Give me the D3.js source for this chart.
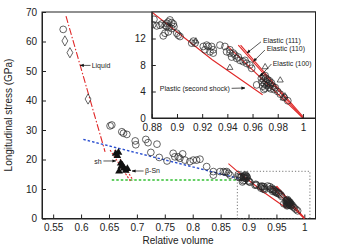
<!DOCTYPE html>
<html lang="en">
<head>
<meta charset="utf-8">
<title>Longitudinal stress vs relative volume</title>
<script src="https://d3js.org/d3.v7.min.js"></script>
<style>
    body { margin: 0; background: #fff; }
    svg { display: block; font-family: "Liberation Sans", Arial, sans-serif; }
    .axis path, .axis line { stroke: #222; }
    .axis text { font-size: 10px; fill: #222; }
    .note { font-size: 7px; fill: #222; }
</style>
</head>
<body>
<script>
// ---- data ----
var xTicksMain = [0.55, 0.6, 0.65, 0.7, 0.75, 0.8, 0.85, 0.9, 0.95, 1];
var yTicksMain = [0, 10, 20, 30, 40, 50, 60, 70];
var xTicksInset = [0.88, 0.9, 0.92, 0.94, 0.96, 0.98, 1];
var yTicksInset = [0, 4, 8, 12];

// liquid branch
var liquidDiamonds = [[0.571, 60.2], [0.580, 56.2], [0.6125, 40.5]];
var liquidCircles = [[0.568, 64.1]];
var liquidLine = [[0.573, 68.6], [0.643, 22.6]];
// beta-Sn / sh boundary (red dotted pair)
var snLineA = [[0.652, 23.2], [0.689, 12.5]];
var snLineB = [[0.660, 23.2], [0.693, 13.0]];
var blueLine = [[0.604, 26.8], [0.882, 13.6]];
var greenLine = [[0.655, 13.05], [0.879, 13.05]];

// filled triangles (beta-Sn)
var snTriangles = [[0.662, 22.0], [0.667, 22.4], [0.665, 21.3], [0.671, 18.7], [0.674, 18.1],
    [0.677, 17.0], [0.668, 16.0], [0.680, 16.3], [0.683, 16.9], [0.672, 17.6]];

// open circles of the main plot (0.64 - 0.88)
var midCircles = [[0.652, 31.4], [0.655, 31.7], [0.673, 29.4], [0.676, 28.9], [0.682, 28.5],
    [0.697, 26.3], [0.698, 25.0], [0.716, 26.8], [0.720, 25.7], [0.736, 25.2], [0.725, 22.4],
    [0.740, 20.7], [0.754, 19.5], [0.765, 22.1], [0.768, 20.9], [0.774, 20.9], [0.777, 20.4],
    [0.782, 21.9], [0.786, 19.8], [0.795, 19.3], [0.801, 19.8], [0.807, 19.8], [0.813, 20.1],
    [0.825, 17.6], [0.837, 15.9], [0.837, 14.7], [0.849, 15.9], [0.855, 15.9], [0.861, 15.9],
    [0.864, 15.3], [0.867, 14.7], [0.858, 15.7]];

// open circles shared by inset and main plot (0.88 - 1)
var hiCircles = [[0.8817, 14.9], [0.8807, 14.1], [0.8839, 13.9], [0.8865, 14.0], [0.8879, 14.2],
    [0.8905, 14.0], [0.8918, 14.3], [0.8931, 14.5], [0.8944, 14.8], [0.8958, 14.4], [0.8971, 14.2],
    [0.8976, 13.8], [0.8958, 13.5], [0.8931, 13.0], [0.8905, 12.8], [0.8891, 12.4], [0.8918, 13.8],
    [0.8939, 13.7], [0.8998, 12.8], [0.9010, 12.5], [0.9024, 12.3],
    [0.9117, 11.3], [0.9130, 11.6], [0.9143, 11.3], [0.9209, 10.8], [0.9236, 11.0], [0.9248, 10.8],
    [0.9275, 10.8], [0.9288, 10.3], [0.9222, 10.3], [0.9262, 10.0], [0.9288, 9.8],
    [0.9341, 11.0], [0.9381, 10.8], [0.9420, 10.3], [0.9447, 9.8], [0.9474, 9.0],
    [0.9394, 10.0], [0.9421, 9.8], [0.9434, 9.2], [0.9460, 9.5], [0.9487, 9.2], [0.9500, 8.7],
    [0.9526, 8.5], [0.9540, 8.7], [0.9553, 8.25], [0.9579, 8.0], [0.9593, 7.5], [0.9633, 5.0],
    [0.9670, 6.0], [0.9675, 5.4], [0.9680, 4.8], [0.9685, 6.2], [0.9690, 5.7], [0.9695, 5.1],
    [0.9700, 4.5], [0.9705, 6.0], [0.9710, 5.4], [0.9715, 4.9], [0.9720, 5.8], [0.9725, 5.2],
    [0.9730, 4.6], [0.9735, 5.6], [0.9740, 5.0], [0.9745, 4.4], [0.9750, 5.3], [0.9690, 4.3],
    [0.9700, 6.4], [0.9760, 4.8], [0.9770, 4.3], [0.9780, 4.6], [0.9800, 4.0], [0.9820, 3.6],
    [0.9850, 3.1], [0.9880, 2.6]];

var openTriangles = [[0.915, 11.6], [0.942, 7.6], [0.970, 7.7], [0.982, 5.7], [0.9843, 3.0], [0.9857, 3.3]];

// red model lines (inset and main)
var plasticLine = [[0.864, 18.6], [0.88, 16.0], [0.928, 8.8], [0.968, 3.5]];
var elastic111 = [[0.9487, 11.0], [1.0, 0]];
var elastic110 = [[0.9505, 11.0], [1.0, 0.2]];
var elastic100 = [[0.940, 10.9], [1.0, 0]];

// annotations: label, text position, arrow from, arrow to (data units)
var mainNotes = [
    {t: "Liquid", anchor: "start", at: [0.619, 51.9], from: [0.617, 51.9], to: [0.5985, 51.9]},
    {t: "sh", anchor: "end", at: [0.637, 19.3], from: [0.640, 19.5], to: [0.6625, 19.5]},
    {t: "\u03b2-Sn", anchor: "start", at: [0.7147, 16.1], from: [0.712, 16.1], to: [0.6913, 16.1]}
];
var insetNotes = [
    {t: "Elastic (111)", anchor: "start", at: [0.9683, 11.75], from: [0.9667, 11.5], to: [0.9556, 9.81]},
    {t: "Elastic (110)", anchor: "start", at: [0.9712, 10.5], from: [0.9698, 10.26], to: [0.9607, 8.53]},
    {t: "Elastic (100)", anchor: "start", at: [0.9760, 8.26], from: [0.9750, 8.15], to: [0.9659, 6.26]},
    {t: "Plastic (second shock)", anchor: "end", at: [0.942, 4.48], from: [0.9434, 4.48], to: [0.954, 4.53]}
];

// ---- layout ----
var width = 338, height = 250;
var svg = d3.select("body").append("svg")
    .attr("width", width).attr("height", height);

svg.append("defs").append("marker")
    .attr("id", "arr")
    .attr("viewBox", "0 0 10 10")
    .attr("refX", 9).attr("refY", 5)
    .attr("markerWidth", 4).attr("markerHeight", 4)
    .attr("markerUnits", "userSpaceOnUse")
    .attr("orient", "auto")
    .append("path").attr("d", "M0,1L10,5L0,9Z").attr("fill", "#111");

var x = d3.scaleLinear().domain([0.53, 1.02]).range([42, 315.5]);
var y = d3.scaleLinear().domain([0, 70]).range([218.5, 12]);

var xi = d3.scaleLinear().domain([0.88, 1.01]).range([151.8, 315.5]);
var yi = d3.scaleLinear().domain([0, 16]).range([118, 12]);

var lineMain = d3.line().x(d => x(d[0])).y(d => y(d[1]));
var lineInset = d3.line().x(d => xi(d[0])).y(d => yi(d[1]));

var circ = d3.symbol().type(d3.symbolCircle).size(36);
var diam = d3.symbol().type(d3.symbolDiamond).size(30);
var tri = d3.symbol().type(d3.symbolTriangle).size(26);
var triSmall = d3.symbol().type(d3.symbolTriangle).size(16);

// ---- main plot ----
var main = svg.append("g");

main.append("g").attr("class", "axis")
    .attr("transform", "translate(0,218.5)")
    .call(d3.axisBottom(x).tickValues(xTicksMain).tickSizeInner(-4).tickSizeOuter(0).tickPadding(5)
        .tickFormat(d3.format("")));
main.append("g").attr("class", "axis")
    .attr("transform", "translate(42,0)")
    .call(d3.axisLeft(y).tickValues(yTicksMain).tickSizeInner(-4).tickSizeOuter(0).tickPadding(5));

// frame
main.append("rect")
    .attr("x", x.range()[0]).attr("y", y.range()[1])
    .attr("width", x.range()[1] - x.range()[0]).attr("height", y.range()[0] - y.range()[1])
    .attr("fill", "none").attr("stroke", "#222");

// dotted zoom box
main.append("rect")
    .attr("x", x(0.88)).attr("y", y(16))
    .attr("width", x(1.01) - x(0.88)).attr("height", y(0) - y(16))
    .attr("fill", "none").attr("stroke", "#555").attr("stroke-width", 0.8)
    .attr("stroke-dasharray", "1.2,2");

main.append("path").attr("d", lineMain(blueLine))
    .attr("fill", "none").attr("stroke", "#2a4fd0").attr("stroke-width", 1.4)
    .attr("stroke-dasharray", "2.5,2");
main.append("path").attr("d", lineMain(greenLine))
    .attr("fill", "none").attr("stroke", "#33c033").attr("stroke-width", 1.6)
    .attr("stroke-dasharray", "2.5,2");

main.append("path").attr("d", lineMain(liquidLine))
    .attr("fill", "none").attr("stroke", "#e02828").attr("stroke-width", 1.1)
    .attr("stroke-dasharray", "7,2,1.5,2");
[snLineA, snLineB].forEach(function(l) {
    main.append("path").attr("d", lineMain(l))
        .attr("fill", "none").attr("stroke", "#e02828").attr("stroke-width", 1.1)
        .attr("stroke-dasharray", "2,1.5");
});

[plasticLine, elastic111, elastic110, elastic100].forEach(function(l) {
    main.append("path").attr("d", lineMain(l))
        .attr("fill", "none").attr("stroke", "#e02828").attr("stroke-width", 1.1);
});

main.selectAll(".mc").data(midCircles.concat(hiCircles, liquidCircles)).enter().append("path")
    .attr("d", circ)
    .attr("transform", d => "translate(" + x(d[0]) + "," + y(d[1]) + ")")
    .attr("fill", "none").attr("stroke", "#222").attr("stroke-width", 0.7);
main.selectAll(".md").data(liquidDiamonds).enter().append("path")
    .attr("d", diam)
    .attr("transform", d => "translate(" + x(d[0]) + "," + y(d[1]) + ")")
    .attr("fill", "none").attr("stroke", "#222").attr("stroke-width", 0.7);
main.selectAll(".mt").data(snTriangles).enter().append("path")
    .attr("d", tri)
    .attr("transform", d => "translate(" + x(d[0]) + "," + y(d[1]) + ")")
    .attr("fill", "#111");

mainNotes.forEach(function(n) {
    main.append("text").attr("class", "note")
        .attr("x", x(n.at[0])).attr("y", y(n.at[1])).attr("dy", "0.35em")
        .attr("text-anchor", n.anchor).text(n.t);
    main.append("line")
        .attr("x1", x(n.from[0])).attr("y1", y(n.from[1]))
        .attr("x2", x(n.to[0])).attr("y2", y(n.to[1]))
        .attr("stroke", "#111").attr("stroke-width", 0.7).attr("marker-end", "url(#arr)");
});

// axis titles
svg.append("text").attr("x", 178).attr("y", 244).attr("text-anchor", "middle")
    .attr("font-size", 10).attr("fill", "#222").text("Relative volume");
svg.append("text").attr("transform", "translate(12,115) rotate(-90)").attr("text-anchor", "middle")
    .attr("font-size", 10).attr("fill", "#222").text("Longitudinal stress (GPa)");

// ---- inset ----
var inset = svg.append("g");
inset.append("rect")
    .attr("x", xi.range()[0]).attr("y", yi.range()[1])
    .attr("width", xi.range()[1] - xi.range()[0]).attr("height", yi.range()[0] - yi.range()[1])
    .attr("fill", "#fff");

inset.append("clipPath").attr("id", "ic").append("rect")
    .attr("x", xi.range()[0]).attr("y", yi.range()[1])
    .attr("width", xi.range()[1] - xi.range()[0]).attr("height", yi.range()[0] - yi.range()[1]);

var plot = inset.append("g").attr("clip-path", "url(#ic)");

[plasticLine, elastic111, elastic110, elastic100].forEach(function(l) {
    plot.append("path").attr("d", lineInset(l))
        .attr("fill", "none").attr("stroke", "#e02828").attr("stroke-width", 1.1);
});

plot.selectAll(".ic").data(hiCircles).enter().append("path")
    .attr("d", circ)
    .attr("transform", d => "translate(" + xi(d[0]) + "," + yi(d[1]) + ")")
    .attr("fill", "none").attr("stroke", "#222").attr("stroke-width", 0.7);
plot.selectAll(".it").data(openTriangles).enter().append("path")
    .attr("d", triSmall)
    .attr("transform", d => "translate(" + xi(d[0]) + "," + yi(d[1]) + ")")
    .attr("fill", "none").attr("stroke", "#222").attr("stroke-width", 0.7);

inset.append("g").attr("class", "axis")
    .attr("transform", "translate(0,118)")
    .call(d3.axisBottom(xi).tickValues(xTicksInset).tickSizeInner(-4).tickSizeOuter(0).tickPadding(6)
        .tickFormat(d3.format("")));
inset.append("g").attr("class", "axis")
    .attr("transform", "translate(151.8,0)")
    .call(d3.axisLeft(yi).tickValues(yTicksInset).tickSizeInner(-4).tickSizeOuter(0).tickPadding(6));

inset.append("rect")
    .attr("x", xi.range()[0]).attr("y", yi.range()[1])
    .attr("width", xi.range()[1] - xi.range()[0]).attr("height", yi.range()[0] - yi.range()[1])
    .attr("fill", "none").attr("stroke", "#222");

insetNotes.forEach(function(n) {
    inset.append("text").attr("class", "note")
        .attr("x", xi(n.at[0])).attr("y", yi(n.at[1])).attr("dy", "0.35em")
        .attr("text-anchor", n.anchor).text(n.t);
    inset.append("line")
        .attr("x1", xi(n.from[0])).attr("y1", yi(n.from[1]))
        .attr("x2", xi(n.to[0])).attr("y2", yi(n.to[1]))
        .attr("stroke", "#111").attr("stroke-width", 0.7).attr("marker-end", "url(#arr)");
});
</script>
</body>
</html>
